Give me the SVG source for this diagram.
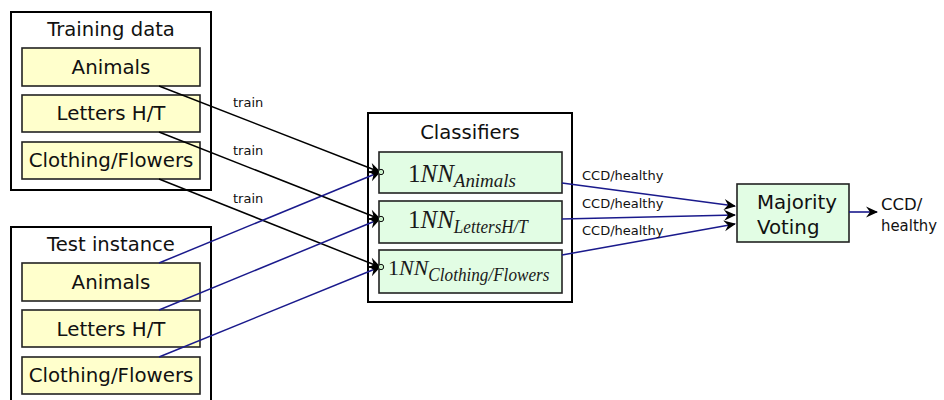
<svg xmlns="http://www.w3.org/2000/svg" width="944" height="400" viewBox="0 0 944 400">
  <defs>
    <style>
      .frame { fill: #ffffff; stroke: #000000; stroke-width: 2; }
      .data { fill: #ffffcc; stroke: #222222; stroke-width: 1.6; }
      .clf { fill: #e2fde4; stroke: #222222; stroke-width: 1.6; }
      .title { font-family: "DejaVu Sans", "Liberation Sans", sans-serif; font-size: 19.6px; fill: #111111; text-anchor: middle; }
      .label { font-family: "DejaVu Sans", "Liberation Sans", sans-serif; font-size: 19.8px; fill: #111111; text-anchor: middle; }
      .left { font-family: "DejaVu Sans", "Liberation Sans", sans-serif; font-size: 19.8px; fill: #111111; }
      .out { font-family: "DejaVu Sans", "Liberation Sans", sans-serif; font-size: 16.5px; fill: #111111; }
      .small { font-family: "DejaVu Sans", "Liberation Sans", sans-serif; font-size: 13px; fill: #111111; }
      .math { font-family: "Liberation Serif", "DejaVu Serif", serif; fill: #1a1a1a; }
      .it { font-style: italic; }
      .train { fill: none; stroke: #000000; stroke-width: 1.5; marker-end: url(#arrow); }
      .test { fill: none; stroke: #1a1a8c; stroke-width: 1.5; marker-end: url(#arrow); }
      .vote { fill: none; stroke: #1a1a8c; stroke-width: 1.6; marker-end: url(#arrow); }
      .port { fill: #c8f0c8; stroke: #111111; stroke-width: 1; }
    </style>
    <marker id="arrow" markerUnits="userSpaceOnUse" markerWidth="15" markerHeight="13" viewBox="-12 -6.5 14 13" refX="0" refY="0" orient="auto">
      <path d="M1,0 L-11,-5.5 L-7,0 L-11,5.5 Z" fill="#000000"/>
    </marker>
  </defs>

  <!-- training data group -->
  <g id="training-data">
    <rect class="frame" x="11" y="12" width="200" height="178"/>
    <text class="title" x="111" y="36">Training data</text>
  </g>
  <g id="train-animals">
    <rect class="data" x="22" y="48" width="178" height="38"/>
    <text class="label" x="111" y="74">Animals</text>
  </g>
  <g id="train-letters">
    <rect class="data" x="22" y="95" width="178" height="37"/>
    <text class="label" x="111" y="120">Letters H/T</text>
  </g>
  <g id="train-clothing">
    <rect class="data" x="22" y="142" width="178" height="37"/>
    <text class="label" x="111" y="167">Clothing/Flowers</text>
  </g>

  <!-- test instance group -->
  <g id="test-instance">
    <rect class="frame" x="11" y="227" width="200" height="180"/>
    <text class="title" x="111" y="251">Test instance</text>
  </g>
  <g id="test-animals">
    <rect class="data" x="22" y="263" width="178" height="38"/>
    <text class="label" x="111" y="289">Animals</text>
  </g>
  <g id="test-letters">
    <rect class="data" x="22" y="310" width="178" height="37"/>
    <text class="label" x="111" y="336">Letters H/T</text>
  </g>
  <g id="test-clothing">
    <rect class="data" x="22" y="357" width="178" height="37"/>
    <text class="label" x="111" y="382">Clothing/Flowers</text>
  </g>

  <!-- classifiers -->
  <g id="classifiers">
    <rect class="frame" x="368" y="113" width="204" height="189"/>
    <text class="title" x="470" y="139">Classifiers</text>
  </g>
  <g id="nn-animals">
    <rect class="clf" x="379" y="152" width="183" height="41"/>
    <text class="math" x="408" y="182" font-size="25">1<tspan class="it">NN</tspan><tspan class="it" font-size="18" dy="5" textLength="62" lengthAdjust="spacingAndGlyphs">Animals</tspan></text>
  </g>
  <g id="nn-letters">
    <rect class="clf" x="379" y="201" width="183" height="42"/>
    <text class="math" x="408" y="228" font-size="25">1<tspan class="it">NN</tspan><tspan class="it" font-size="18" dy="5" textLength="74" lengthAdjust="spacingAndGlyphs">LettersH/T</tspan></text>
  </g>
  <g id="nn-clothing">
    <rect class="clf" x="379" y="250" width="183" height="43"/>
    <text class="math" x="388" y="275" font-size="22">1<tspan class="it">NN</tspan><tspan class="it" font-size="18" dy="6" textLength="121" lengthAdjust="spacingAndGlyphs">Clothing/Flowers</tspan></text>
  </g>

  <!-- voting -->
  <g id="majority-voting">
    <rect class="clf" x="737" y="184" width="112" height="58"/>
    <text class="left" x="757" y="209">Majority</text>
    <text class="left" x="757" y="234">Voting</text>
  </g>

  <!-- connectors -->
  <g id="connectors">
    <line class="train" x1="159" y1="86" x2="380" y2="172"/>
    <line class="train" x1="159" y1="132" x2="380" y2="219"/>
    <line class="train" x1="159" y1="179" x2="380" y2="267"/>
    <line class="test" x1="159" y1="263" x2="380" y2="172"/>
    <line class="test" x1="159" y1="310" x2="380" y2="219"/>
    <line class="test" x1="159" y1="357" x2="380" y2="267"/>
    <circle class="port" cx="381" cy="172" r="2.7"/>
    <circle class="port" cx="381" cy="219" r="2.7"/>
    <circle class="port" cx="381" cy="267" r="2.7"/>
    <text class="small" x="233" y="107">train</text>
    <text class="small" x="233" y="155">train</text>
    <text class="small" x="233" y="203">train</text>

    <line class="vote" x1="562" y1="183" x2="735" y2="206"/>
    <line class="vote" x1="562" y1="219" x2="735" y2="215"/>
    <line class="vote" x1="562" y1="255" x2="735" y2="224"/>
    <text class="small" x="582" y="180">CCD/healthy</text>
    <text class="small" x="582" y="208">CCD/healthy</text>
    <text class="small" x="582" y="235">CCD/healthy</text>

    <line class="vote" x1="849" y1="212" x2="877" y2="212"/>
    <text class="out" x="881" y="210">CCD/</text>
    <text class="out" x="881" y="231" textLength="56" lengthAdjust="spacingAndGlyphs">healthy</text>
  </g>
</svg>
